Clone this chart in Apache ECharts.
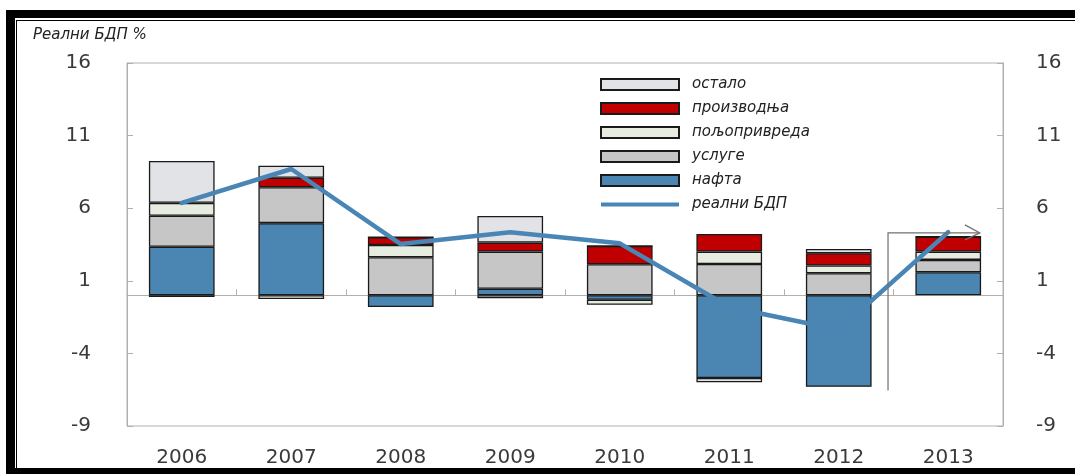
<!DOCTYPE html>
<html>
<head>
<meta charset="utf-8">
<script src="https://cdn.jsdelivr.net/npm/echarts@6/dist/echarts.min.js"></script>
<style>
  html, body { margin: 0; padding: 0; background: #fff; }
  #wrap { position: relative; width: 1075px; height: 474px; overflow: hidden; }
  #frameOuter { position: absolute; left: 6px; top: 10px; width: 1100px; height: 470px;
    border-top: 8px solid #000; border-left: 9px solid #000; box-sizing: border-box; }
  #frameInner { position: absolute; left: 16px; top: 20px; width: 1100px; height: 460px;
    border-top: 1.5px solid #000; border-left: 1.5px solid #000; box-sizing: border-box; }
  #frameBottom { position: absolute; left: 6px; top: 468px; width: 1100px; height: 6px; background: #000; }
  #main { position: absolute; left: 0; top: 0; width: 1075px; height: 474px; }
</style>
</head>
<body>
<div id="wrap">
  <div id="frameOuter"></div>
  <div id="frameInner"></div>
  <div id="frameBottom"></div>
  <div id="main"></div>
</div>
<script>
// ---- data ----
const categories = ['2006', '2007', '2008', '2009', '2010', '2011', '2012', '2013'];
const nafta        = [3.35, 4.97, -0.81, 0.45, -0.30, -5.69, -6.30, 1.59];
const usluge       = [2.13, 2.47, 2.62, 2.56, 2.14, 2.16, 1.52, 0.85];
const poljoprivreda= [0.89, -0.25, 0.85, -0.20, -0.35, 0.85, 0.53, 0.57];
const proizvodnja  = [-0.12, 0.66, 0.53, 0.62, 1.26, 1.21, 0.85, 1.03];
const ostalo       = [2.88, 0.82, 0.00, 1.83, 0.00, -0.30, 0.29, 0.00];
const realniBDP    = [6.36, 8.70, 3.53, 4.34, 3.58, -0.80, -2.37, 4.35];
const yTicks = [-9, -4, 1, 6, 11, 16];

const names = {
  ostalo: 'остало', proizvodnja: 'производња', poljo: 'пољопривреда',
  usluge: 'услуге', nafta: 'нафта', bdp: 'реални БДП'
};

const FONT = 'DejaVu Sans';
const chart = echarts.init(document.getElementById('main'), null, { renderer: 'canvas' });

function barSeries(name, data, color) {
  return {
    name: name, type: 'bar', stack: 'total', data: data,
    xAxisIndex: 0, yAxisIndex: 0, barWidth: '60%',
    itemStyle: { color: color, borderColor: '#1a1a1a', borderWidth: 1.3 },
    emphasis: { disabled: true }, z: 2
  };
}

const yAxisCommon = {
  type: 'value', min: yTicks[0], max: yTicks[yTicks.length - 1], interval: 5,
  splitLine: { show: false },
  axisLine: { show: true, lineStyle: { color: '#b0b0b0', width: 1 } },
  axisTick: { show: true, inside: true, length: 6, lineStyle: { color: '#b0b0b0' } },
  axisLabel: { fontFamily: FONT, fontSize: 20, color: '#3a3a3a' }
};

chart.setOption({
  animation: false,
  backgroundColor: 'transparent',
  title: {
    text: 'Реални БДП %', left: 28, top: 23,
    textStyle: { fontFamily: FONT, fontStyle: 'italic', fontWeight: 'normal', fontSize: 15, color: '#222' }
  },
  grid: { left: 127, right: 72, top: 63, bottom: 48, show: true, borderColor: '#b0b0b0', borderWidth: 1, containLabel: false },
  legend: {
    orient: 'vertical', left: 595, top: 72,
    itemWidth: 78, itemHeight: 11, itemGap: 9, icon: 'rect',
    data: [
      names.ostalo, names.proizvodnja, names.poljo, names.usluge, names.nafta,
      { name: names.bdp, icon: 'path://M0,0 L78,0 L78,4 L0,4 Z' }
    ],
    textStyle: { fontFamily: FONT, fontStyle: 'italic', fontSize: 15, color: '#222', padding: [0, 0, 0, 8] },
    selectedMode: false
  },
  xAxis: [
    {
      type: 'category', data: categories, position: 'bottom',
      axisLine: { show: false, onZero: false },
      axisTick: { show: false },
      axisLabel: { fontFamily: FONT, fontSize: 20, color: '#3a3a3a', margin: 22 }
    },
    {
      type: 'category', data: categories, position: 'bottom',
      axisLine: { show: true, onZero: true, lineStyle: { color: '#b0b0b0', width: 1 } },
      axisTick: { show: true, inside: true, length: 6, lineStyle: { color: '#b0b0b0' } },
      axisLabel: { show: false }
    }
  ],
  yAxis: [
    Object.assign({}, yAxisCommon, { position: 'left', axisLabel: Object.assign({}, yAxisCommon.axisLabel, { margin: 36 }) }),
    Object.assign({}, yAxisCommon, { position: 'right', axisLabel: Object.assign({}, yAxisCommon.axisLabel, { margin: 33 }) })
  ],
  series: [
    barSeries(names.nafta, nafta, '#4a86b1'),
    barSeries(names.usluge, usluge, '#c6c6c6'),
    barSeries(names.poljo, poljoprivreda, '#e6ecdf'),
    barSeries(names.proizvodnja, proizvodnja, '#c00000'),
    barSeries(names.ostalo, ostalo, '#e1e3e7'),
    {
      name: names.bdp, type: 'line', data: realniBDP, xAxisIndex: 0, yAxisIndex: 0,
      symbol: 'none', z: 5,
      lineStyle: { color: '#4a86b5', width: 4.5, join: 'round', cap: 'round' },
      itemStyle: { color: '#4a86b5' },
      emphasis: { disabled: true }
    }
  ]
});

// forecast bracket around the last category, positioned through the axes
(function () {
  const last = categories.length - 1;
  const p12 = chart.convertToPixel({ xAxisIndex: 0, yAxisIndex: 0 }, [categories[last - 1], 0]);
  const p13 = chart.convertToPixel({ xAxisIndex: 0, yAxisIndex: 0 }, [categories[last], 0]);
  const band = p13[0] - p12[0];
  const xL = p12[0] + 0.45 * band;
  const xR = p13[0] + 0.28 * band;
  const yTop = chart.convertToPixel({ yAxisIndex: 0 }, 4.3);
  const yBot = chart.convertToPixel({ yAxisIndex: 0 }, -6.55);
  const stroke = { stroke: '#707070', lineWidth: 1.2, fill: null };
  chart.setOption({
    graphic: [
      { type: 'polyline', z: 10, shape: { points: [[xL, yBot], [xL, yTop], [xR, yTop]] }, style: stroke },
      { type: 'polyline', z: 10, shape: { points: [[xR - 14, yTop - 8], [xR + 1, yTop], [xR - 14, yTop + 7]] }, style: stroke }
    ]
  });
})();
</script>
</body>
</html>
